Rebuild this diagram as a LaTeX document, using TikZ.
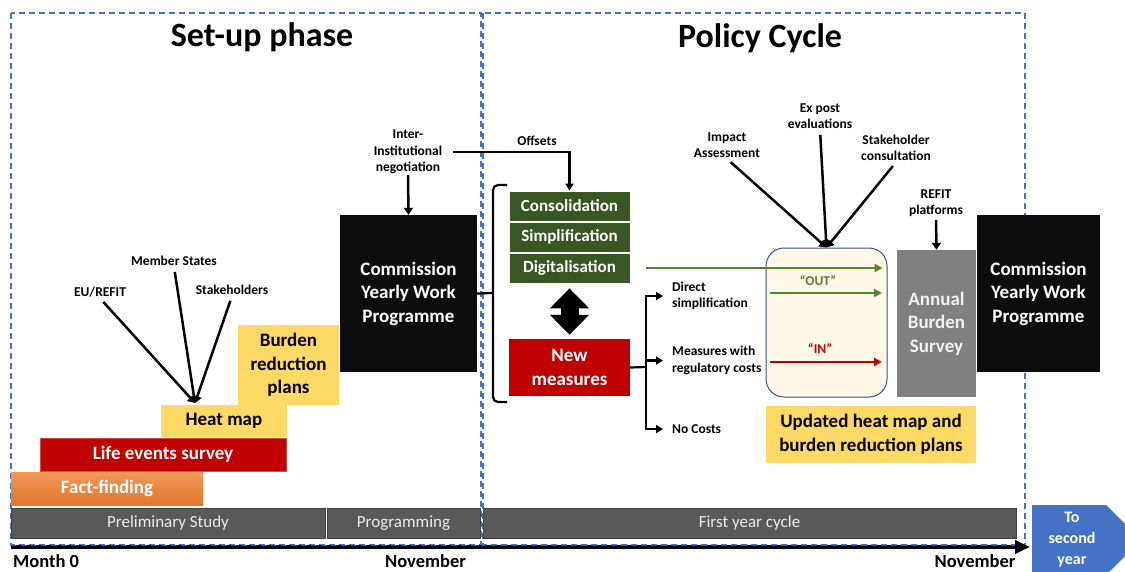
\documentclass[tikz,border=0pt]{standalone}
\usepackage{fontspec}
\setmainfont{Carlito}
\usetikzlibrary{arrows.meta}
\definecolor{frameblue}{HTML}{4472C4}
\definecolor{bargray}{HTML}{595959}
\definecolor{boxred}{HTML}{C00000}
\definecolor{boxyellow}{HTML}{FFD966}
\definecolor{boxgreen}{HTML}{385723}
\definecolor{arrowgreen}{HTML}{548235}
\definecolor{boxorange}{HTML}{ED7D31}
\definecolor{cream}{HTML}{FFF8E6}
\definecolor{rimblue}{HTML}{2F5597}
\definecolor{surveygray}{HTML}{808080}
\definecolor{navy}{HTML}{1F3864}
\definecolor{nearblack}{HTML}{0D0D0D}
\def\bw{121pt}
\def\bh{30pt}
\tikzset{
    block/.style = {
        inner sep=0pt, align=center, font=\bfseries\fontsize{19}{23.5}\selectfont
    },
    measure/.style = {
        block, fill=boxgreen, text=white, draw=white, line width=0.8pt,
        minimum width=\bw, minimum height=\bh, font=\bfseries\fontsize{17}{20}\selectfont
    },
    phaseframe/.style = {draw=frameblue, line width=1.4pt, dash pattern=on 6pt off 4pt},
    bar/.style = {
        draw=black!75, fill=bargray, text=white!92!black, minimum height=30pt,
        inner sep=0pt, font=\fontsize{17}{20}\selectfont
    },
    note/.style = {align=center, inner sep=1pt, font=\bfseries\fontsize{13.5}{16.5}\selectfont},
    feed/.style = {line width=2.5pt, shorten <=5pt, -{Triangle[width=9pt,length=7pt]}},
    wire/.style = {line width=2.2pt},
    branch/.style = {line width=2.2pt, -{Triangle[width=8pt,length=7pt]}},
    datemark/.style = {font=\bfseries\fontsize{18.5}{22}\selectfont, inner sep=0pt},
}
\begin{document}
\begin{tikzpicture}[x=1pt, y=-1pt]
        \useasboundingbox (0,0) rectangle (1125,571);

        % Phase frames
        \draw[phaseframe] (11,13) rectangle (481,545);
        \draw[phaseframe] (483,13) rectangle (1025,545);
        \node[font=\bfseries\fontsize{34}{40}\selectfont] (setup) at (262,37) {Set-up phase};
        \node[font=\bfseries\fontsize{34}{40}\selectfont] (policy) at (760,38) {Policy Cycle};

        % Place the set-up blocks
        \node[block, text=white, top color=boxorange!80!white, bottom color=boxorange!95!black,
              minimum width=192pt, minimum height=33pt] (fact) at (107,488.5) {Fact-finding};
        \node[block, text=white, fill=boxred, draw=boxred!70!white, minimum width=246pt,
              minimum height=33pt] (life) at (163,454.5) {Life events survey};
        \node[block, fill=boxyellow, minimum width=126pt, minimum height=32pt] (heat) at (224,421) {Heat map};
        \node[block, fill=boxyellow, minimum width=101pt, minimum height=80pt] (burden) at (288.5,365) {Burden\\reduction\\plans};
        \node[block, text=white, fill=nearblack, minimum width=137pt, minimum height=157pt] (cwp1) at (408.5,293.5) {Commission\\Yearly Work\\Programme};

        % Inputs to the heat map
        \node[note] (eu) at (100,292) {EU/REFIT};
        \node[note] (ms) at (174,261) {Member States};
        \node[note] (sh) at (232,290) {Stakeholders};
        \coordinate (hm) at (195,403);
        \foreach \s in {eu, ms, sh}{
            \draw[feed] (\s.south) -- (hm);
        }

        % Negotiation and offsets
        \node[note] (iin) at (408,152) {Inter-\\Institutional\\negotiation};
        \node[note] (offs) at (537,141) {Offsets};
        \draw[feed, shorten <=0pt] (iin.south) -- (cwp1.north);

        % Place the policy blocks
        \node[measure] (cons) at (569.5,206) {Consolidation};
        \node[measure] (simp) at (569.5,237) {Simplification};
        \node[measure] (digi) at (569.5,268) {Digitalisation};
        \node[block, text=white, fill=boxred, minimum width=\bw, minimum height=57pt] (newm) at (569.5,367.5) {New\\measures};
        \draw[wire, -{Triangle[width=8pt,length=7pt]}] ([xshift=10pt]iin.east) -| (cons.north);

        % Brace from the work programme
        \coordinate (bt) at (507,185);
        \coordinate (bb) at (507,402);
        \coordinate (bm) at (493,293);
        \draw[wire, rounded corners=5pt] (bt) -- (bt -| bm) -- (bb -| bm) -- (bb);
        \draw[wire] (cwp1.east) -- (bm);

        % Two way arrow
        \draw[line width=18pt, shorten <=5pt, shorten >=4pt,
              {Triangle[width=38pt,length=20pt]}-{Triangle[width=38pt,length=20pt]}] (digi.south) -- (newm.north);

        % Kinds of new measures
        \node[note, align=left, anchor=west] (ds) at (671,296) {Direct\\simplification};
        \node[note, align=left, anchor=west] (mw) at (671,360.5) {Measures with\\regulatory costs};
        \node[note, align=left, anchor=west] (nc) at (671,429) {No Costs};
        \coordinate (sp) at (646,367);
        \draw[wire] (newm.east) -- (sp);
        \foreach \t in {ds, mw, nc}{
            \draw[branch] (sp) |- ([xshift=-8pt]\t.west);
        }

        % One in one out box
        \node[draw=rimblue, fill=cream, line width=1pt, rounded corners=18pt,
              minimum width=\bw, minimum height=149pt] (ybox) at (826.5,322.5) {};
        \node[note, text=arrowgreen] (out) at (818,281) {“OUT”};
        \node[note, text=boxred] (in) at (820,349) {“IN”};
        \coordinate (o1) at (770,293);
        \coordinate (o2) at (882,293);
        \coordinate (i1) at (770,362);
        \coordinate (i2) at (882,362);
        \draw[arrowgreen, line width=2pt, shorten <=16pt, shorten >=5pt, -{Triangle[width=8pt,length=8pt]}] (digi.east) -- (digi.east -| ybox.east);
        \draw[arrowgreen, line width=2pt, -{Triangle[width=8pt,length=8pt]}] (o1) -- (o2);
        \draw[boxred, line width=2pt, -{Triangle[width=8pt,length=8pt]}] (i1) -- (i2);

        % Evaluation inputs
        \node[note] (ia) at (727,145) {Impact\\Assessment};
        \node[note] (ep) at (820,116) {Ex post\\evaluations};
        \node[note] (sc) at (896,148) {Stakeholder\\consultation};
        \foreach \s in {ia, ep, sc}{
            \draw[feed] (\s.south) -- (ybox.north);
        }

        % Survey and next programme
        \node[block, text=white!95!black, fill=surveygray, minimum width=79pt, minimum height=147pt] (survey) at (936.5,323.5) {Annual\\Burden\\Survey};
        \node[note] (rp) at (936,203) {REFIT\\platforms};
        \draw[feed, shorten <=2pt] (rp.south) -- (survey.north);
        \node[block, text=white, fill=nearblack, minimum width=123pt, minimum height=157pt] (cwp2) at (1038.5,293.5) {Commission\\Yearly Work\\Programme};
        \node[block, fill=boxyellow, minimum width=210pt, minimum height=57pt] (upd) at (871,434.5) {Updated heat map and\\burden reduction plans};

        % Timeline
        \node[bar, minimum width=314pt] (prelim) at (168,523) {Preliminary Study};
        \node[bar, minimum width=153pt] (prog) at (403.5,523) {Programming};
        \node[bar, minimum width=533pt] (first) at (749.5,523) {First year cycle};
        \coordinate (t0) at (11,547);
        \coordinate (t1) at (1030,547);
        \draw[line width=4pt, -{Triangle[width=13pt,length=15pt]}] (t0) -- (t1);
        \draw[frameblue!75!black, line width=1.5pt, dash pattern=on 6pt off 4pt] ([yshift=1.5pt]t0) -- ([xshift=-15pt,yshift=1.5pt]t1);
        \node[datemark, anchor=west] (m0) at (13,561) {Month 0};
        \node[datemark] (nov1) at (425.5,561) {November};
        \node[datemark] (nov2) at (975,561) {November};

        % To second year
        \fill[frameblue] (1032,505) -- (1106,505) -- (1141,540) -- (1106,575) -- (1032,575) -- cycle;
        \node[align=center, text=white, inner sep=0pt, font=\bfseries\fontsize{16}{21}\selectfont] (next) at (1072,540) {To\\second\\year};
\end{tikzpicture}
\end{document}
